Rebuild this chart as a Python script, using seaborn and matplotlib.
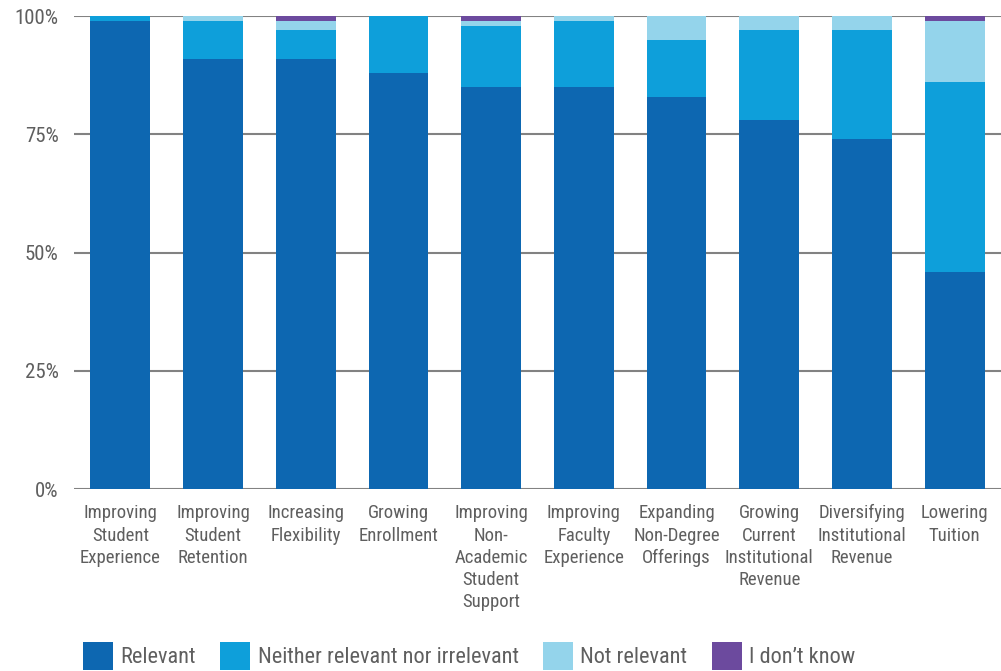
import matplotlib
matplotlib.use("Agg")
import matplotlib.pyplot as plt
from matplotlib import font_manager
import seaborn as sns
import pandas as pd
import numpy as np
from matplotlib.patches import Patch

categories = [
    "Improving\nStudent\nExperience",
    "Improving\nStudent\nRetention",
    "Increasing\nFlexibility",
    "Growing\nEnrollment",
    "Improving\nNon-\nAcademic\nStudent\nSupport",
    "Improving\nFaculty\nExperience",
    "Expanding\nNon-Degree\nOfferings",
    "Growing\nCurrent\nInstitutional\nRevenue",
    "Diversifying\nInstitutional\nRevenue",
    "Lowering\nTuition",
]
relevant = [99, 91, 91, 88, 85, 85, 83, 78, 74, 46]
neither = [1, 8, 6, 12, 13, 14, 12, 19, 23, 40]
not_relevant = [0, 1, 2, 0, 1, 1, 5, 3, 3, 13]
dont_know = [0, 0, 1, 0, 1, 0, 0, 0, 0, 1]

series_names = ["Relevant", "Neither relevant nor irrelevant", "Not relevant", "I don\u2019t know"]
series_values = [relevant, neither, not_relevant, dont_know]
colors = ["#0D67B1", "#0E9FDA", "#94D4EB", "#6C4A9E"]
y_ticks = [0, 25, 50, 75, 100]
y_tick_labels = ["0%", "25%", "50%", "75%", "100%"]

sns.set_style("white")

# prefer a condensed face; otherwise fall back to a regular sans at a smaller size
installed = {f.name for f in font_manager.fontManager.ttflist}
condensed = [n for n in ["Liberation Sans Narrow", "DejaVu Sans Condensed",
                         "Roboto Condensed", "Open Sans Condensed"] if n in installed]
if condensed:
    family = condensed[0]
    scale = 1.0
else:
    family = "Liberation Sans"
    scale = 0.84
plt.rcParams["font.family"] = [family, "DejaVu Sans"]
text_color = "#5f5f5f"

fig = plt.figure(figsize=(10.01, 6.71), dpi=100)
ax = fig.add_axes([0.0739, 0.2712, 0.9261, 0.7045])

# cumulative stacks, drawn tallest first so lower segments sit on top
cum = np.cumsum(np.array(series_values), axis=0)
for i in range(len(series_names) - 1, -1, -1):
    df = pd.DataFrame({"category": categories, "value": cum[i]})
    sns.barplot(data=df, x="category", y="value", color=colors[i],
                width=0.645, saturation=1, linewidth=0, edgecolor="none",
                ax=ax, zorder=3)

ax.set_ylim(0, 100)
ax.set_xlim(-0.5, len(categories) - 0.5)
ax.set_yticks(y_ticks)
ax.set_yticklabels(y_tick_labels)
ax.yaxis.grid(True, color="#828282", linewidth=1.5, zorder=0)
ax.set_axisbelow(True)
ax.xaxis.grid(False)
for s in ax.spines.values():
    s.set_visible(False)
ax.set_xlabel("")
ax.set_ylabel("")
ax.tick_params(axis="y", length=0, pad=11, labelsize=15 * scale, labelcolor=text_color)
ax.tick_params(axis="x", length=0, pad=11, labelsize=13.5 * scale, labelcolor=text_color)
for lbl in ax.get_xticklabels():
    lbl.set_linespacing(1.3 / scale)
    lbl.set_horizontalalignment("center")

handles = [Patch(facecolor=c, edgecolor="none") for c in colors]
fig.legend(handles, series_names, loc="lower left", bbox_to_anchor=(0.083, 0.002),
           ncol=4, frameon=False, fontsize=16 * scale, labelcolor=text_color,
           handlelength=1.35 / scale, handleheight=1.55 / scale,
           handletextpad=0.33, columnspacing=1.1, borderaxespad=0, borderpad=0)

fig.savefig("out.png", dpi=100)
